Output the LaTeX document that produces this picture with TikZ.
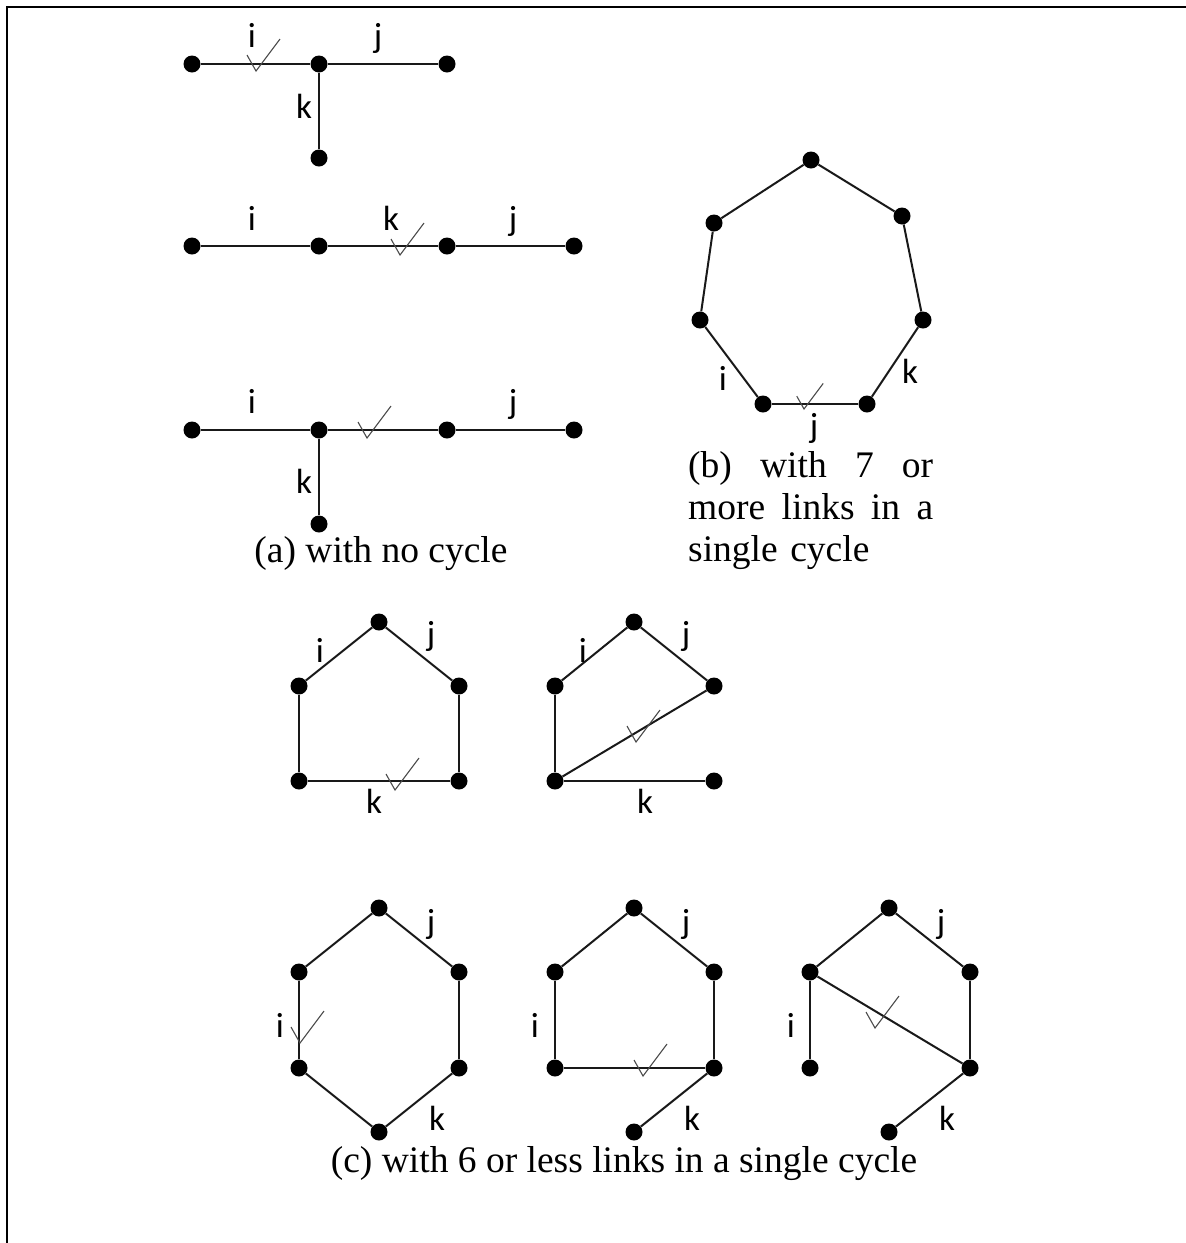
\documentclass[tikz,border=0pt]{standalone}
\usepackage{fontspec}
\setmainfont{Liberation Serif}
\newfontfamily\lblfont{Carlito}
\usepackage{tikz}
\usetikzlibrary{positioning}

\begin{document}
\begin{tikzpicture}[
  x=1pt, y=-1pt,
  dot/.style={circle, fill=black, inner sep=0pt, minimum size=17pt},
  edge/.style={line width=2pt, black!90},
  lbl/.style={font=\lblfont\fontsize{35}{38}\selectfont, inner sep=0pt, anchor=base},
  captext/.style={font=\fontsize{37.5}{42}\selectfont, inner sep=0pt, anchor=base},
  chkline/.style={line width=1.1pt, black!70},
  chk/.pic={\draw[chkline] (-9,-16) -- (0,0) -- (24,-32);}
]
\useasboundingbox (0,0) rectangle (1186,1243);

%% --- FRAME ---
\draw[line width=2pt] (7,1243) -- (7,7) -- (1186,7);

%% --- (a) TOP TREE ---
\node[dot] (ta1) at (192,64) {};
\node[dot] (ta2) at (319,64) {};
\node[dot] (ta3) at (447,64) {};
\node[dot] (ta4) at (319,158) {};
\draw[edge] (ta1) -- (ta2);
\draw[edge] (ta2) -- (ta3);
\draw[edge] (ta2) -- (ta4);
\node[lbl] (tai) at (252,47) {i};
\node[lbl] (taj) at (378,47) {j};
\node[lbl] (tak) at (304,118) {k};
\pic at (256,71) {chk};

%% --- (a) MIDDLE CHAIN ---
\node[dot] (ma1) at (192,246) {};
\node[dot] (ma2) at (319,246) {};
\node[dot] (ma3) at (447,246) {};
\node[dot] (ma4) at (574,246) {};
\draw[edge] (ma1) -- (ma2);
\draw[edge] (ma2) -- (ma3);
\draw[edge] (ma3) -- (ma4);
\node[lbl] (mai) at (252,230) {i};
\node[lbl] (mak) at (391,230) {k};
\node[lbl] (maj) at (513,230) {j};
\pic at (400,255) {chk};

%% --- (a) BOTTOM TREE ---
\node[dot] (ba1) at (192,430) {};
\node[dot] (ba2) at (319,430) {};
\node[dot] (ba3) at (447,430) {};
\node[dot] (ba4) at (574,430) {};
\node[dot] (ba5) at (319,524) {};
\draw[edge] (ba1) -- (ba2);
\draw[edge] (ba2) -- (ba3);
\draw[edge] (ba3) -- (ba4);
\draw[edge] (ba2) -- (ba5);
\node[lbl] (bai) at (252,413) {i};
\node[lbl] (baj) at (513,413) {j};
\node[lbl] (bak) at (304,493) {k};
\pic at (367,438) {chk};

\node[captext] (capa) at (381,562) {(a) with no cycle};

%% --- (b) SEVEN-LINK CYCLE ---
\node[dot] (hb1) at (811,160) {};
\node[dot] (hb2) at (902,216) {};
\node[dot] (hb3) at (923,320) {};
\node[dot] (hb4) at (867,404) {};
\node[dot] (hb5) at (763,404) {};
\node[dot] (hb6) at (700,320) {};
\node[dot] (hb7) at (714,223) {};
\draw[edge] (hb1) -- (hb2);
\draw[edge] (hb2) -- (hb3);
\draw[edge] (hb3) -- (hb4);
\draw[edge] (hb4) -- (hb5);
\draw[edge] (hb5) -- (hb6);
\draw[edge] (hb6) -- (hb7);
\draw[edge] (hb7) -- (hb1);
\node[lbl] (hbi) at (723,390) {i};
\node[lbl] (hbk) at (910,383) {k};
\node[lbl] (hbj) at (814,437) {j};
\pic[scale=0.8] at (804,409) {chk};

\node[captext, anchor=base west, text width=245pt, align=left] (capb) at (688,477)
  {(b)\hfill with\hfill 7\hfill or\\ more\hfill links\hfill in\hfill a\\ single cycle};

%% --- (c) UPPER LEFT: HOUSE ---
\node[dot] (ul1) at (379,622) {};
\node[dot] (ul2) at (299,686) {};
\node[dot] (ul3) at (459,686) {};
\node[dot] (ul4) at (299,781) {};
\node[dot] (ul5) at (459,781) {};
\draw[edge] (ul1) -- (ul2);
\draw[edge] (ul1) -- (ul3);
\draw[edge] (ul2) -- (ul4);
\draw[edge] (ul3) -- (ul5);
\draw[edge] (ul4) -- (ul5);
\node[lbl] (uli) at (320,662) {i};
\node[lbl] (ulj) at (431,645) {j};
\node[lbl] (ulk) at (374,813) {k};
\pic at (395,790) {chk};

%% --- (c) UPPER RIGHT: HOUSE WITH DIAGONAL ---
\node[dot] (ur1) at (634,622) {};
\node[dot] (ur2) at (555,686) {};
\node[dot] (ur3) at (714,686) {};
\node[dot] (ur4) at (555,781) {};
\node[dot] (ur5) at (714,781) {};
\draw[edge] (ur1) -- (ur2);
\draw[edge] (ur1) -- (ur3);
\draw[edge] (ur2) -- (ur4);
\draw[edge] (ur4) -- (ur3);
\draw[edge] (ur4) -- (ur5);
\node[lbl] (uri) at (583,662) {i};
\node[lbl] (urj) at (686,645) {j};
\node[lbl] (urk) at (645,813) {k};
\pic at (636,742) {chk};

%% --- (c) LOWER LEFT: HEXAGON ---
\node[dot] (ll1) at (379,908) {};
\node[dot] (ll2) at (299,972) {};
\node[dot] (ll3) at (459,972) {};
\node[dot] (ll4) at (299,1068) {};
\node[dot] (ll5) at (459,1068) {};
\node[dot] (ll6) at (379,1132) {};
\draw[edge] (ll1) -- (ll2);
\draw[edge] (ll1) -- (ll3);
\draw[edge] (ll2) -- (ll4);
\draw[edge] (ll3) -- (ll5);
\draw[edge] (ll4) -- (ll6);
\draw[edge] (ll5) -- (ll6);
\node[lbl] (llj) at (431,933) {j};
\node[lbl] (lli) at (280,1037) {i};
\node[lbl] (llk) at (437,1130) {k};
\pic at (300,1043) {chk};

%% --- (c) LOWER MIDDLE ---
\node[dot] (lm1) at (634,908) {};
\node[dot] (lm2) at (555,972) {};
\node[dot] (lm3) at (714,972) {};
\node[dot] (lm4) at (555,1068) {};
\node[dot] (lm5) at (714,1068) {};
\node[dot] (lm6) at (634,1132) {};
\draw[edge] (lm1) -- (lm2);
\draw[edge] (lm1) -- (lm3);
\draw[edge] (lm2) -- (lm4);
\draw[edge] (lm3) -- (lm5);
\draw[edge] (lm4) -- (lm5);
\draw[edge] (lm5) -- (lm6);
\node[lbl] (lmj) at (686,933) {j};
\node[lbl] (lmi) at (535,1037) {i};
\node[lbl] (lmk) at (692,1130) {k};
\pic at (643,1076) {chk};

%% --- (c) LOWER RIGHT ---
\node[dot] (lr1) at (889,908) {};
\node[dot] (lr2) at (810,972) {};
\node[dot] (lr3) at (970,972) {};
\node[dot] (lr4) at (810,1068) {};
\node[dot] (lr5) at (970,1068) {};
\node[dot] (lr6) at (889,1132) {};
\draw[edge] (lr1) -- (lr2);
\draw[edge] (lr1) -- (lr3);
\draw[edge] (lr2) -- (lr4);
\draw[edge] (lr3) -- (lr5);
\draw[edge] (lr2) -- (lr5);
\draw[edge] (lr5) -- (lr6);
\node[lbl] (lrj) at (941,933) {j};
\node[lbl] (lri) at (791,1037) {i};
\node[lbl] (lrk) at (947,1130) {k};
\pic at (875,1028) {chk};

\node[captext] (capc) at (624,1172) {(c) with 6 or less links in a single cycle};

\end{tikzpicture}
\end{document}
